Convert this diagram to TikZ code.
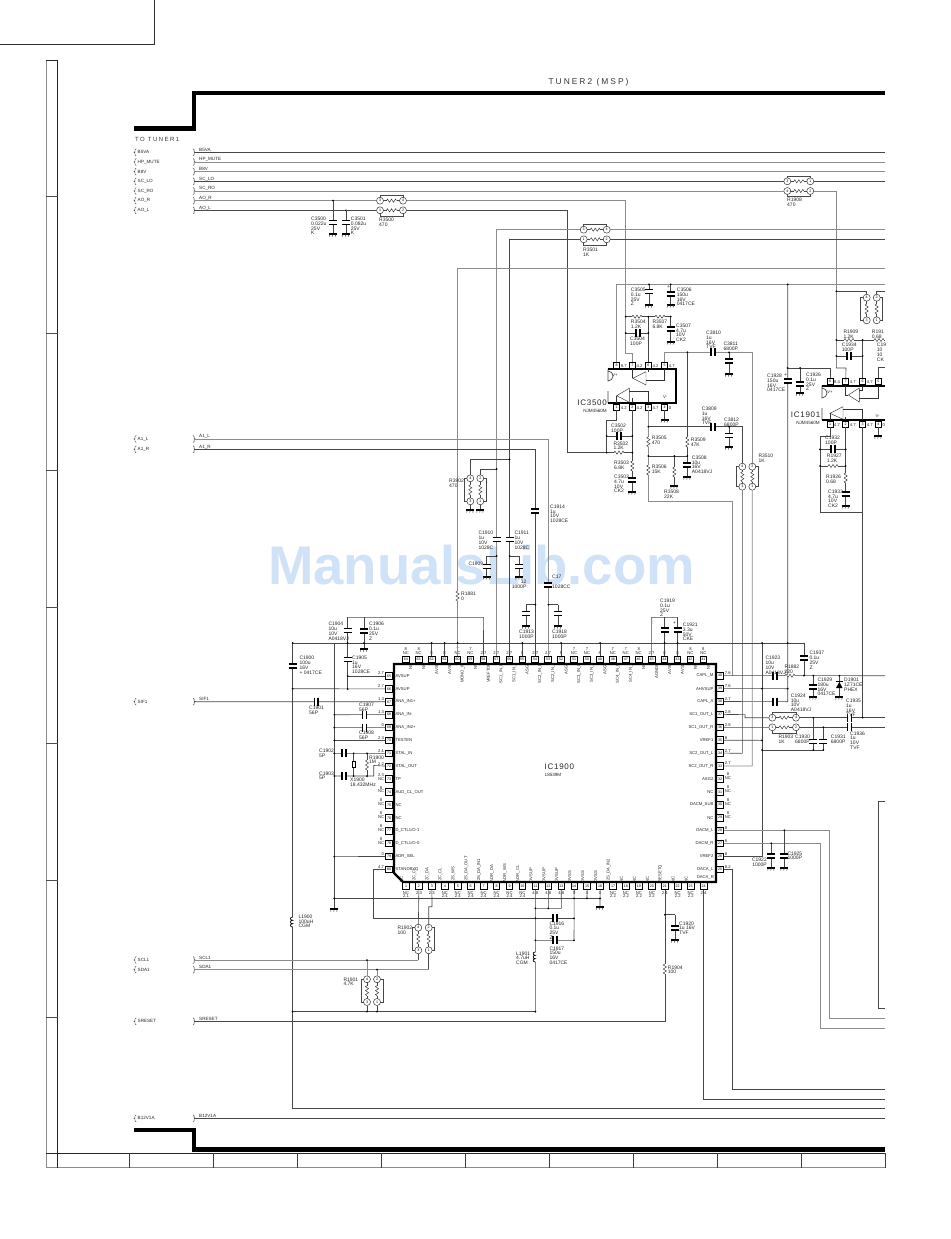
\documentclass[tikz,border=0pt]{standalone}
\usepackage{fontspec}
\setmainfont{Liberation Sans}
\newfontfamily\spaced[LetterSpace=24]{Liberation Sans}
\newfontfamily\spacedb[LetterSpace=9]{Liberation Sans}
\definecolor{wmark}{RGB}{208,226,248}
\newcounter{lb}
\tikzset{
 wd/.style={draw=black!72,line width=.6},
 wg/.style={draw=black!45,line width=.7},
 plate/.style={draw=black,line width=1.5},
 zig/.style={draw=black!80,line width=.45},
 heavy/.style={draw=black,line width=4.5},
 lbl/.style={anchor=north west,inner sep=0,align=left,font=\fontsize{5}{4.7}\selectfont,text=black!85},
 lblr/.style={anchor=north east,inner sep=0,align=right,font=\fontsize{5}{4.7}\selectfont,text=black!85},
 sig/.style={anchor=west,inner sep=0,font=\fontsize{4.6}{5}\selectfont,text=black!85},
 pinb/.style={draw=black,line width=.85,fill=white,minimum size=6.6pt,inner sep=0,font=\fontsize{3.6}{4}\selectfont},
 pinu/.style={draw=black,line width=.75,fill=white,minimum size=6pt,inner sep=0,font=\fontsize{3.6}{4}\selectfont},
 padc/.style={circle,draw=black!80,line width=.5,fill=white,minimum size=7pt,inner sep=0,font=\fontsize{3.6}{4}\selectfont},
 pintxt/.style={inner sep=0,font=\fontsize{4.2}{4.6}\selectfont,text=black!85},
 val/.style={inner sep=0,align=center,font=\fontsize{4.2}{3.9}\selectfont,text=black!85}
}
\newcommand\lab[3]{\stepcounter{lb}\node[lbl] (lab\arabic{lb}) at (#1,#2) {#3};}
\newcommand\labr[3]{\stepcounter{lb}\node[lblr] (lab\arabic{lb}) at (#1,#2) {#3};}
\newcommand\capV[2]{\fill[white] (#1-3,#2-1.1) rectangle (#1+3,#2+1.1);\draw[plate] (#1-4,#2-1.8)--(#1+4,#2-1.8);\draw[plate] (#1-4,#2+1.8)--(#1+4,#2+1.8);}
\newcommand\capH[2]{\fill[white] (#1-1.1,#2-3) rectangle (#1+1.1,#2+3);\draw[plate] (#1-1.8,#2-4)--(#1-1.8,#2+4);\draw[plate] (#1+1.8,#2-4)--(#1+1.8,#2+4);}
\newcommand\resH[2]{\fill[white] (#1-5,#2-1) rectangle (#1+5,#2+1);\draw[zig] (#1-5,#2)--(#1-4,#2-1.6)--(#1-2,#2+1.6)--(#1,#2-1.6)--(#1+2,#2+1.6)--(#1+4,#2-1.6)--(#1+5,#2);}
\newcommand\resV[2]{\fill[white] (#1-1,#2-5) rectangle (#1+1,#2+5);\draw[zig] (#1,#2-5)--(#1-1.6,#2-4)--(#1+1.6,#2-2)--(#1-1.6,#2)--(#1+1.6,#2+2)--(#1-1.6,#2+4)--(#1,#2+5);}
\newcommand\gndS[2]{\draw[plate] (#1-4,#2)--(#1+4,#2);\draw[zig] (#1-3,#2)--(#1-3.6,#2+2.6) (#1,#2)--(#1-.6,#2+2.6) (#1+3,#2)--(#1+2.4,#2+2.6);}
\newcommand\capG[4]{\draw[wd] (#1,#2)--(#1,#4);\capV{#1}{#3}\gndS{#1}{#4}}
\newcommand\dotj[2]{\fill[black] (#1,#2) circle (1);}
\newcommand\indV[2]{\fill[white] (#1-.8,#2-5) rectangle (#1+.8,#2+5);\draw[draw=black,line width=.7] (#1,#2-5) .. controls (#1-3,#2-5) and (#1-3,#2-1.7) .. (#1,#2-1.7) .. controls (#1-3,#2-1.7) and (#1-3,#2+1.7) .. (#1,#2+1.7) .. controls (#1-3,#2+1.7) and (#1-3,#2+5) .. (#1,#2+5);}
% horizontal / vertical resistor networks
\newcommand\netH[9]{\draw[wd] (#2,#4-5.5) rectangle (#3,#4);\draw[wd] (#2,#5) rectangle (#3,#5+5.5);
 \node[padc] (#1a) at (#2,#4) {#6};\node[padc] (#1b) at (#3,#4) {#7};\node[padc] (#1c) at (#2,#5) {#8};\node[padc] (#1d) at (#3,#5) {#9};
 \draw[wd] (#1a)--(#1b);\draw[wd] (#1c)--(#1d);
 \pgfmathsetmacro\midv{(#2+#3)/2}\resH{\midv}{#4}\resH{\midv}{#5}}
\newcommand\netV[9]{\draw[wd] (#2-6,#4) rectangle (#2,#5);\draw[wd] (#3,#4) rectangle (#3+6,#5);
 \node[padc] (#1a) at (#2,#4) {#6};\node[padc] (#1b) at (#3,#4) {#7};\node[padc] (#1c) at (#2,#5) {#8};\node[padc] (#1d) at (#3,#5) {#9};
 \draw[wd] (#1a)--(#1c);\draw[wd] (#1b)--(#1d);
 \pgfmathsetmacro\midv{(#4+#5)/2}\resV{#2}{\midv}\resV{#3}{\midv}}
\newcommand\sigL[4]{% name, y, text, style
 \coordinate (#1) at (194,#2);\coordinate (#1R) at (885,#2);
 \draw[zig] (136.2,#2-3.5)--(135,#2-2.5)--(135,#2-.6)--(134,#2)--(135,#2+.6)--(135,#2+2.5)--(136.2,#2+3.5);
 \draw[zig] (193,#2-3.5)--(194.2,#2-2.5)--(194.2,#2-.6)--(195.2,#2)--(194.2,#2+.6)--(194.2,#2+2.5)--(193,#2+3.5);
 \node[sig] (#1T) at (137.5,#2) {#3};\node[sig] (#1U) at (199,#2-2.3) {#3};}
\begin{document}
\begin{tikzpicture}[x=1pt,y=-1pt]
\useasboundingbox (0,0) rectangle (950,1239);
\node[inner sep=0,text=wmark,font=\fontsize{54.5}{60}\selectfont\bfseries] (wm) at (481.5,565) {ManualsLib.com};
% frame
\draw[line width=1,draw=black!80] (0,45)--(154,45)--(154,0);
\draw[line width=1,draw=black!45] (46,60)--(46,1167.5)--(885,1167.5);
\draw[line width=.8,draw=black!85] (46,60)--(57.5,60)--(57.5,1167.5);
\draw[line width=.8,draw=black!85] (46,1153.3)--(885.3,1153.3);
\foreach \x in {129.3,213.3,297.3,381.3,465.3,549.3,633.3,717.3,801.3,885.3} \draw[line width=.7,draw=black!75] (\x,1153.3)--(\x,1167.5);
\foreach \y in {196,333,470,607,743,880,1017} \draw[line width=.7,draw=black!70] (46,\y)--(57.5,\y);
\draw[heavy,line join=miter] (885,93)--(194,93)--(194,128.3)--(134,128.3);
\draw[heavy,line join=miter] (134,1130)--(194,1130)--(194,1149.5)--(885,1149.5);
\node[anchor=center,inner sep=0,font=\fontsize{8.4}{9}\spaced,text=black!80] (title) at (588.5,82) {TUNER2 (MSP)};
\node[anchor=west,inner sep=0,font=\fontsize{6}{7}\spaced,text=black!80] (toT) at (135,139) {TO TUNER1};
% IC1900 pins
\foreach \n in {1,...,24} {\pgfmathsetmacro\xx{406+12.94*(\n-1)}\node[pinb] (p\n) at (\xx,886) {\n};}
\foreach \n in {25,...,40} {\pgfmathsetmacro\yy{869.3-12.91*(\n-25)}\node[pinb] (p\n) at (720,\yy) {\n};}
\foreach \n in {41,...,64} {\pgfmathsetmacro\xx{703.4-12.94*(\n-41)}\node[pinb] (p\n) at (\xx,659.3) {\n};}
\foreach \n in {65,...,80} {\pgfmathsetmacro\yy{676+12.89*(\n-65)}\node[pinb] (p\n) at (389,\yy) {\n};}
\draw[draw=black,line width=2.2,line join=miter] (394,664)--(716,664)--(716,882)--(403,882)--(394,873)--cycle;
% pin names
\foreach \t [count=\n] in {NC,I2C\_CL,I2C\_DA,I2C\_CL,I2S\_WS,I2S\_DA\_OUT,I2S\_DA\_IN1,ADR\_DA,ADR\_WS,ADR\_CL,DVSUP,DVSUP,DVSUP,DVSS,DVSS,DVSS,I2S\_DA\_IN2,NC,NC,NC,RESETQ,NC,NC}
 {\node[pintxt,rotate=90,anchor=west,yshift=4.5pt] (tb\n) at (p\n.north) {\t};}
\node[pintxt,anchor=east] (tb24) at (714,877) {DACA\_R};
\foreach \n/\t in {25/DACA\_L,26/VREF2,27/DACM\_R,28/DACM\_L,29/NC,30/DACM\_SUB,31/NC,32/ASG2,33/SC2\_OUT\_R,34/SC2\_OUT\_L,35/VREF1,36/SC1\_OUT\_R,37/SC1\_OUT\_L,38/CAPL\_A,39/AHVSUP,40/CAPL\_M}
 {\node[pintxt,anchor=east,xshift=-2.7pt] (tr\n) at (p\n.west) {\t};}
\foreach \n/\t in {41/NC,42/NC,43/AVSS,44/AVSS,45/AGNDC,46/NC,47/SC4\_IN\_L,48/SC4\_IN\_R,49/ASG4,50/SC3\_IN\_L,51/SC3\_IN\_R,52/ASG3,53/SC2\_IN\_L,54/SC2\_IN\_R,55/ASG1,56/SC1\_IN\_L,57/SC1\_IN\_R,58/VREFTOP,59/NC,60/MONO\_IN,61/AVSS,62/AVSS,63/NC,64/NC}
 {\node[pintxt,rotate=90,anchor=east,yshift=-5pt] (tt\n) at (p\n.south) {\t};}
\foreach \n/\t in {65/AVSUP,66/AVSUP,67/ANA\_IN1+,68/ANA\_IN-,69/ANA\_IN2+,70/TESTEN,71/XTAL\_IN,72/XTAL\_OUT,73/TP,74/AUD\_CL\_OUT,75/NC,76/NC,79/ADR\_SEL,80/STANDBYQ}
 {\node[pintxt,anchor=west,xshift=2.7pt] (tl\n) at (p\n.east) {\t};}
\node[pintxt,anchor=west,xshift=2.7pt] (tl77) at (p77.east) {D\_CTL1/O-1};
\node[pintxt,anchor=west,xshift=2.7pt] (tl78) at (p78.east) {D\_CTL1/O-0};
% outer values
\foreach \n/\v in {64/{8\\NC},63/{8\\NC},62/8,61/8,60/{7\\NC},59/{7\\NC},58/2.7,57/2.7,56/2.7,55/8,54/2.7,53/2.7,52/8,51/{7\\NC},50/{7\\NC},49/8,48/{7\\NC},47/{7\\NC},46/{8\\NC},45/2.7,44/8,43/8,42/{8\\NC},41/{8\\NC}}
 {\node[val,anchor=south,yshift=.8pt] (vt\n) at (p\n.north) {\v};}
\foreach \n/\v in {1/{NC\\2.1},2/2.3,3/2.3,4/{NC\\2.4},5/{NC\\2.4},6/{NC\\2.4},7/{NC\\2.4},8/{NC\\2.4},9/{NC\\2.4},10/{NC\\2.4},11/4.8,12/4.8,13/4.8,14/0,15/0,16/0,17/{NC\\2.2},18/{NC\\2.2},19/{NC\\2.2},20/{NC\\2.2},21/2.4,22/{NC\\2.2},23/{NC\\2.2},24/2.4}
 {\node[val,anchor=north,yshift=-1.2pt] (vb\n) at (p\n.south) {\v};}
\foreach \n/\v in {65/2.7,66/2.7,67/1.3,68/1.3,69/0,70/2.3,71/2.1,72/2.2,73/{2.3\\NC},74/{8\\NC},75/{8\\NC},76/{8\\NC},77/{8\\NC},78/{8\\NC},79/0,80/4.7}
 {\node[val,anchor=east,xshift=-1pt,yshift=2.5pt] (vl\n) at (p\n.west) {\v};}
\foreach \n/\v in {40/7.6,39/7.6,38/2.7,37/2.8,36/2.8,35/8,34/2.7,33/2.7,32/{8\\NC},31/{8\\NC},30/{8\\NC},29/{8\\NC},28/8,27/8,26/8,25/8.2}
 {\node[val,anchor=west,xshift=1pt,yshift=2.5pt] (vr\n) at (p\n.east) {\v};}
% IC3500 body
\draw[wd,line width=.7] (608,369.3)--(608,381) arc[start angle=90,end angle=-90,radius=5] (608,391)--(608,403);
\draw[draw=black,line width=2,line join=miter] (608,369.3)--(676,369.3)--(676,403)--(608,403);
\foreach \n/\x in {8/616.7,7/632.3,6/648.3,5/664.7} {\node[pinu] (u\n) at (\x,365.7) {\n};}
\foreach \n/\x in {1/616.7,2/632.3,3/648.3,4/664.7} {\node[pinu] (u\n) at (\x,407) {\n};}
\draw[zig] (632.7,378.3)--(646,371.7)--(646,385)--cycle;
\draw[zig] (616.7,395.7)--(629.3,388.3)--(629.3,402.3)--cycle;
\draw[zig] (632.3,369.3)--(632.3,378.3) (648.3,369.3)--(648.3,372) (664.7,369.3)--(664.7,380)--(646,380);
\draw[zig] (616.7,403)--(616.7,395.7) (632.3,403)--(632.3,398) (648.3,403)--(648.3,391)--(629.3,391);
\foreach \n/\v in {8/8.7,7/4.2,6/4.2,5/4.7} {\node[val,anchor=south west,xshift=4pt,yshift=-5.5pt] (uvt\n) at (u\n.north) {\v};}
\foreach \n/\v in {1/4.2,2/4.2,3/4.7,4/0} {\node[val,anchor=north west,xshift=4pt,yshift=4pt] (uvb\n) at (u\n.south) {\v};}
\node[val] (uvp) at (615,375) {V+};\node[val] (uvm) at (665,397) {V-};
\node[anchor=east,inner sep=0,font=\fontsize{8}{9}\spacedb,text=black!85] (ic35) at (607,402.5) {IC3500};
\node[sig,anchor=east] (ic35n) at (607,411) {NJM4560M};
% IC1901 body
\draw[wd,line width=.7] (822,385.7)--(822,398) arc[start angle=90,end angle=-90,radius=5] (822,408)--(822,420);
\draw[draw=black,line width=2,line join=miter] (885,385.7)--(822,385.7) (822,420)--(885,420);
\foreach \n/\x in {8/830,7/845.7,6/862.7,5/878.3} {\node[pinu] (v\n) at (\x,381.3) {\n};}
\foreach \n/\x in {1/830,2/845.7,3/862.7,4/878.3} {\node[pinu] (v\n) at (\x,424) {\n};}
\draw[zig] (848.3,395)--(859.3,388)--(859.3,402)--cycle;
\draw[zig] (830,413.3)--(843,406.7)--(843,419.3)--cycle;
\draw[zig] (845.7,385.7)--(845.7,395)--(848.3,395) (862.7,385.7)--(862.7,390)--(859.3,390) (878.3,385.7)--(878.3,398)--(859.3,398);
\draw[zig] (830,420)--(830,413.3) (845.7,420)--(845.7,417) (862.7,420)--(862.7,409)--(843,409);
\foreach \n/\v in {8/8.4,7/4.7,6/4.7} {\node[val,anchor=south west,xshift=4pt,yshift=-5.5pt] (vvt\n) at (v\n.north) {\v};}
\foreach \n/\v in {1/4.7,2/4.7,3/4.7,4/0} {\node[val,anchor=north west,xshift=4pt,yshift=4pt] (vvb\n) at (v\n.south) {\v};}
\node[val] (vvp) at (830,391.7) {V+};\node[val] (vvm) at (877.7,415.7) {V-};
\node[anchor=east,inner sep=0,font=\fontsize{8}{9}\spacedb,text=black!85] (ic19) at (820.5,415) {IC1901};
\node[sig,anchor=east] (ic19n) at (820,423) {NJM4560M};
\node[anchor=west,inner sep=0,font=\fontsize{8}{9}\spacedb,text=black!85] (ic1900) at (544.5,767) {IC1900};
\node[sig] (ic1900n) at (544.5,774.5) {18539M};
% input lines
\sigL{b5}{152.3}{B5VA}{wd}\sigL{hp}{162}{HP\_MUTE}{wg}\sigL{b8}{171.7}{B8V}{wg}\sigL{lo}{181.3}{SC\_LO}{wd}\sigL{ro}{191}{SC\_RO}{wg}\sigL{aor}{200.7}{AO\_R}{wg}\sigL{aol}{210.3}{AO\_L}{wd}
\sigL{a1l}{439}{A1\_L}{wg}\sigL{a1r}{449.3}{A1\_R}{wd}\sigL{sif}{701.7}{SIF1}{wd}\sigL{scl}{960}{SCL1}{wg}\sigL{sda}{969.7}{SDA1}{wg}\sigL{srs}{1021.3}{SRESET}{wd}\sigL{b12}{1118.3}{B12V1A}{wd}
\draw[wd] (b5)--(b5R);\draw[wg] (hp)--(hpR);\draw[wg] (b8)--(b8R);
% resistor networks
\netH{ra}{380}{403}{200.7}{210.3}{3}{4}{1}{2}
\netH{rb}{583.7}{606.7}{229.7}{239.3}{3}{4}{1}{2}
\netH{rc}{787.3}{810.3}{181.3}{191}{3}{1}{4}{2}
\netH{rd}{772.3}{796}{717.7}{727.3}{3}{4}{1}{2}
\netV{re}{470.3}{480.3}{478.3}{501.3}{4}{2}{3}{1}
\netV{rf}{742.3}{752.3}{466.7}{486.7}{4}{2}{3}{1}
\netV{rg}{418.3}{428.7}{927.7}{950.3}{4}{2}{3}{1}
\netV{rh}{367}{377}{979.3}{1002}{4}{2}{3}{1}
\netV{ri}{866.7}{876.7}{297.7}{320.3}{4}{2}{3}{1}
% top wiring
\draw[wd] (lo)--(rca);\draw[wd] (rcb)--(loR);
\draw[wg] (ro)--(rcc);\draw[wg] (rcd)--(836.3,191);
\draw[wd] (836.3,191)--(836.3,368)--(846,368)--(v7);
\draw[wg] (aor)--(raa);\draw[wg] (rab)--(625.7,200.7)--(625.7,353.3)--(632.3,353.3)--(u7);
\draw[wd] (aol)--(rac);\draw[wd] (rad)--(567.5,210.3)--(567.5,452.7)--(606.7,452.7);
\draw[wg] (p57) |- (rba);\draw[wg] (rbb)--(885,229.7);
\draw[wd] (p56) |- (rbc);\draw[wd] (rbd)--(885,239.3);
\draw[wg] (p60) |- (885,268.7);
\draw[wg] (u8) |- (885,284.3);
\draw[wd] (787.7,284.3)--(787.7,701.7)--(p38);
\draw[wd] (836.3,291.3)--(866.7,291.3)--(ria);\draw[wd] (885,291.3)--(876.7,291.3)--(rib);
% IC3500 wiring
\draw[wd] (625.7,316.7)--(670.7,316.7);\draw[wd] (625.7,333)--(648.3,333);\draw[wd] (648.3,316.7)--(u6);
\draw[wg] (u5) |- (752.3,352.3)--(rfb);
\draw[wd] (648.3,426.7)--(742.3,426.7)--(rfa);
\draw[wg] (u3)--(648.3,501.7)--(732.7,501.7)--(732.7,675.7);
\draw[wd] (rfc)--(742.3,753.3)--(p34);\draw[wg] (rfd)--(752.3,766)--(p33);
\draw[wd] (u1) |- (606.7,420.7)--(606.7,452.7)--(632.3,452.7);
\draw[wd] (606.7,436)--(632.3,436);
\draw[wd] (u2)--(632.3,492);
\draw[wd] (687.3,352.3)--(687.3,477);
\draw[wd] (648.3,456)--(687.3,456);
\draw[wd] (674.3,456)--(674.3,486);
\draw[wd] (u4)--(664.7,420);
\gndS{664.7}{420}
\capG{649}{284.3}{291.5}{305}\capG{670.7}{284.3}{294}{305}\capG{670.7}{316.7}{329}{342}
\capG{729}{352.3}{361}{374}\capG{729}{426.7}{435.5}{447}
\capH{638}{333}\resH{637}{316.7}\resH{660}{316.7}\capH{713}{352.3}\capH{713}{426.7}\capH{619}{436}\resH{619}{452.7}
\resV{632.3}{466}\capV{632.3}{480}\gndS{632.3}{492}
\resV{648.3}{441.7}\resV{648.3}{470}\resV{687.3}{442}\capV{687.3}{465}\gndS{687.3}{477}\resV{674.3}{472}\gndS{674.3}{486}
% IC1901 wiring
\draw[wd] (787.7,368)--(830,368)--(v8);
\capG{800}{368}{384}{393}\capV{787.7}{381}
\draw[wd] (836.3,340)--(885,340);\draw[wd] (836.3,356)--(862.7,356);\draw[wd] (862.7,340)--(v6);
\draw[wd] (v5)--(878.3,367)--(885,367);
\draw[wd] (v1)--(830,436)--(820,436)--(820,512.7)--(862.7,512.7);
\draw[wd] (820,449.3)--(845.7,449.3);\draw[wd] (820,466)--(845.7,466);
\draw[wd] (v2)--(845.7,506);
\draw[wd] (v4)--(878.3,436);\gndS{878.3}{436}
\draw[wd] (v3)--(862.7,717.7);
\resH{849}{340}\resH{879}{340}\capH{849}{356}\capH{833}{449.3}\resH{833}{466}\resV{845.7}{478}\capV{845.7}{494}\gndS{845.7}{506}
% AV inputs
\draw[wg] (a1l) -| (p53);\draw[wd] (a1r) -| (p54);
\draw[wd] (509.5,459.3)--(470.3,459.3)--(rea);\draw[wd] (496.6,469)--(480.3,469)--(reb);
\draw[wd] (rec)--(470.3,510);\draw[wd] (red)--(480.3,510);\gndS{470.3}{510}\gndS{480.3}{510}
\capV{496.6}{539.5}\capV{509.5}{539.5}\capV{535.4}{511}\capV{548.3}{585}
\draw[wd] (509.5,556)--(519.3,556);\capG{519.3}{556}{566.5}{577}
\draw[wd] (496.6,556)--(486.7,556);\capG{486.7}{556}{566.5}{577}
\draw[wd] (535.4,604.7)--(526,604.7);\capG{526}{604.7}{613.5}{626}
\draw[wd] (548.3,604.7)--(558,604.7);\capG{558}{604.7}{613.5}{626}
\resV{457.6}{596}
% rails
\draw[wd] (292.7,643)--(804,643);
\draw[wd] (292.7,643)--(292.7,1108.3)--(885,1108.3);
\draw[wd] (b12)--(b12R);
\draw[wd] (334.3,643)--(334.3,909);\gndS{334.3}{909}
\draw[wd] (292.7,688.7)--(p66);
\draw[wd] (347.7,617.3)--(347.7,689);\draw[wd] (347.7,676)--(p65);
\draw[wd] (347.7,617.3)--(483.6,617.3)--(p58);
\capG{364}{617.3}{631}{649}
\capV{347.7}{630.5}\capV{347.7}{659.5}\capV{292.7}{666}\indV{292.7}{922}
\draw[wd] (sif)--(p67);\capH{316.3}{701.7}
\foreach \n/\y in {68/714.7,69/727.6,70/740.5,79/856.6,71/753.3} {\draw[wd] (334.3,\y)--(p\n);}
\capH{364.5}{714.7}\capH{364.5}{727.6}\capH{344}{753.3}
\draw[wd] (334.3,776)--(373.7,776)--(373.7,765.5)--(p72);\capH{344}{776}
\draw[wd] (353.7,753.3)--(353.7,776);\draw[wd] (367,753.3)--(367,776);\resV{367}{765}
\draw[draw=black,line width=.6,fill=white] (352.2,761) rectangle (355.2,767.5);
\draw[wd] (p80) -| (373.7,918.3)--(574,918.3);\capH{555}{918.3}
\foreach \n in {62,61,55,52,49,44,43} {\draw[wd] (p\n) -- (p\n |- 292.7,643);}
\draw[wd] (p45)--(651.7,617.3)--(677.7,617.3);
\draw[wd] (664.7,617.3)--(664.7,643);\draw[wd] (677.7,617.3)--(677.7,643);\capV{664.7}{630}\capV{677.7}{630}
% bottom
\draw[wd] (334.3,898.3)--(600,898.3);
\draw[wd] (p14)--(574,940.3)--(535.4,940.3);\capH{555}{940.3}
\draw[wd] (p15)--(587,898.3);\draw[wd] (p16)--(600,907);\gndS{600}{907}
\draw[wd] (p11)--(535.4,1011.7);\indV{535.4}{957}
\draw[wd] (p12)--(548.3,908.3);\draw[wd] (p13)--(561.3,908.3)--(535.4,908.3);
\draw[wd] (292.7,1011.7)--(535.4,1011.7);
\draw[wd] (p2)--(rga);\draw[wd] (p3)--(432,906.7)--(428.7,906.7)--(rgb);
\draw[wd] (rgc)--(418.3,960);\draw[wg] (scl)--(418.3,960);
\draw[wd] (rgd)--(428.7,969.7);\draw[wg] (sda)--(428.7,969.7);
\draw[wg] (367,960)--(rha);\draw[wg] (377,969.7)--(rhb);\draw[wd] (rhc)--(367,1011.7);\draw[wd] (rhd)--(377,1011.7);
\draw[wd] (srs) -| (p21);\resV{664.8}{969}
\draw[wd] (664.8,914.7)--(675,914.7);\capG{675}{914.7}{928}{940}
\draw[wd] (p24) |- (885,1099);
\draw[wd] (p25) -| (732.7,1089.3)--(885,1089.3);
\draw[wd] (p26) -| (762,643);
\draw[wg] (p28) -| (829.3,1018.3)--(885,1018.3);\draw[wg] (p27) -| (820,1028)--(885,1028);
\draw[wd] (885,801.7)--(878.7,801.7)--(878.7,1008.3)--(885,1008.3);
\capG{771.3}{843.3}{856}{868}\capG{784.3}{830.3}{856}{868}
% right side
\draw[wd] (p40)--(885,675.7);\capH{775}{675.7}\resH{790}{675.7}
\draw[wd] (p39)--(787.7,688.7);\capH{775}{701.7}
\draw[wd] (804,643)--(804,675.7);\capV{804}{658}
\capG{813.3}{675.7}{687}{697}
\draw[wd] (839.3,675.7)--(839.3,697);\gndS{839.3}{697}
\fill[black] (836,688)--(842.6,688)--(839.3,682)--cycle;\draw[plate] (836,681.5)--(842.6,681.5);
\draw[wd] (p37)--(745,714.6)--(745,717.7)--(rda);\draw[wd] (p36)--(rdc);
\draw[wd] (rdb)--(885,717.7);\draw[wd] (rdd)--(885,727.3);
\capH{849.5}{717.7}\capH{849.5}{727.3}
\draw[wd] (p35)--(762,740.3);
\draw[wd] (762,750)--(823.3,750);\draw[wd] (813.3,717.7)--(813.3,750);\draw[wd] (823.3,727.3)--(823.3,750);
\capV{813.3}{741.5}\capV{823.3}{741.5}
% dots
\foreach \x/\y in {333/200.7,346/210.3,787.7/284.3,836.3/291.3,836.3/340,862.7/340,836.3/356,862.7/356,649/284.3,670.7/284.3,625.7/316.7,648.3/316.7,670.7/316.7,625.7/333,648.3/333,687.3/352.3,729/352.3,648.3/426.7,729/426.7,606.7/436,632.3/436,606.7/452.7,632.3/452.7,648.3/456,674.3/456,687.3/456,787.7/368,800/368,820/449.3,845.7/449.3,820/466,845.7/466,509.5/459.3,496.6/469,509.5/556,496.6/556,535.4/604.7,548.3/604.7,347.7/643,364/643,431.7/643,444.6/643,457.6/643,522.4/643,561.2/643,600/643,664.7/643,677.7/643,762/643,787.7/643,292.7/643,347.7/676,292.7/688.7,347.7/689,334.3/714.7,334.3/727.6,334.3/740.5,334.3/753.3,334.3/776,334.3/856.6,334.3/898.3,353.7/753.3,367/753.3,353.7/776,367/776,762/688.7,787.7/688.7,762/740.3,762/750,813.3/750,823.3/750,813.3/717.7,823.3/727.3,862.7/717.7,804/675.7,813.3/675.7,839.3/675.7,574/898.3,587/898.3,600/898.3,535.4/908.3,548.3/908.3,535.4/918.3,574/918.3,535.4/940.3,574/940.3,664.8/914.7,771.3/843.3,784.3/830.3,367/960,377/969.7,292.7/1011.7,367/1011.7,377/1011.7,535.4/1011.7}
 {\dotj{\x}{\y}}
\capG{333}{200.7}{222.5}{234}\capG{346}{210.3}{222.5}{234}
% component labels
\lab{311}{217}{C3500\\0.022u\\25V\\K}\lab{350.7}{217}{C3501\\0.082u\\25V\\K}\lab{379}{218}{R3500\\470}
\lab{583}{248}{R3501\\1K}\lab{787}{198.3}{R1908\\470}
\lab{630.7}{288}{C3505\\0.1u\\25V\\Z}\lab{676.7}{288}{C3506\\150u\\16V\\0417CE}\lab{667}{285}{+}
\lab{630.7}{320}{R3504\\1.2K}\lab{652.3}{320}{R3507\\6.8K}\lab{630}{337}{C3504\\100P}\lab{676}{323.7}{C3507\\4.7u\\10V\\CK2}
\lab{706}{331}{C3810\\1u\\16V\\TVF}\lab{723.3}{342}{C3811\\6800P}
\lab{701.7}{407}{C3809\\1u\\16V\\TVF}\lab{724}{418}{C3812\\6800P}
\lab{611}{424}{C3502\\100P}\lab{613.3}{441.5}{R3502\\1.2K}\lab{614}{461}{R3503\\6.8K}\lab{614}{475}{C3503\\4.7u\\10V\\CK2}
\lab{651.7}{436.3}{R3505\\470}\lab{651.7}{465}{R3506\\15K}\lab{664}{490}{R3508\\22K}\lab{690.7}{438}{R3509\\47K}\lab{691.7}{455.7}{C3508\\10u\\16V\\A0418VJ}
\lab{758.3}{454}{R3510\\1K}
\lab{767}{374}{C1928\\150u\\16V\\0417CE}\lab{784}{373}{+}\lab{806}{373}{C1926\\0.1u\\25V\\Z}
\lab{843.3}{329.7}{R1909\\1.2K}\lab{871.7}{329.7}{R191\\0.68}\lab{841.7}{343.3}{C1934\\100P}\lab{876.7}{343.3}{C19\\10\\10\\CK}
\lab{825}{436.3}{C1932\\100P}\lab{826.7}{454}{R1927\\1.2K}\lab{826}{474.7}{R1926\\0.68}\lab{828}{489.7}{C1933\\4.7u\\10V\\CK2}
\lab{449}{478.7}{R3902\\470}\lab{478.3}{531.3}{C1910\\1u\\10V\\1028C}\lab{514.3}{531.3}{C1911\\1u\\10V\\1028C}\lab{550}{504.7}{C1914\\1u\\10V\\1028CE}
\lab{468.3}{562}{C1909}\lab{520.7}{579.7}{12}\lab{511.7}{585}{1000P}\lab{552}{574.7}{C17}\lab{552}{585}{1028CC}
\lab{519}{630.3}{C1913\\1000P}\lab{552}{630.3}{C1918\\1000P}\lab{461}{592}{R1881\\0}
\lab{660}{599}{C1919\\0.1u\\25V\\Z}\lab{682.7}{623}{C1921\\3.3u\\50V\\CKE}\lab{673}{621}{+}
\lab{765.3}{656.3}{C1923\\10u\\10V\\A0418VJ}\lab{784.3}{665.3}{R1882\\220}\lab{809.3}{651.3}{C1937\\0.1u\\25V\\Z}
\lab{817.3}{678}{C1929\\180u\\16V\\0417CE}\lab{844}{678}{D1901\\1Z71CE\\PHEX}\lab{790.7}{693.7}{C1924\\10u\\10V\\A0418VJ}
\lab{846}{699}{C1935\\1u\\16V\\TVF}\lab{850}{731.3}{C1936\\1u\\10V\\TVF}\lab{778.3}{735}{R1903\\1K}\lab{795}{734.7}{C1930\\6800P}\lab{830.7}{734.7}{C1931\\6800P}
\labr{767}{858}{C1922\\1000P}\lab{787.3}{851.3}{C1925\\1000P}
\lab{328.3}{622.3}{C1904\\10u\\10V\\A0418VJ}\lab{369}{622.3}{C1906\\0.1u\\25V\\Z}\lab{352}{655.7}{C1905\\1u\\16V\\1028CE}\lab{299.3}{656.3}{C1900\\100u\\16V\\+ 0417CE}
\lab{309}{705.7}{C1901\\56P}\lab{359}{703}{C1907\\56P}\lab{359}{730.7}{C1908\\56P}\lab{319}{748.7}{C1902\\5P}\lab{319}{771.3}{C1903\\5P}
\lab{369}{755.3}{R1900\\1M}\lab{350}{778}{X1900\\18.432MHz}
\lab{298.3}{914.7}{L1900\\100uH\\CGM}\lab{397.3}{925.7}{R1902\\100}\lab{343.3}{977.3}{R1901\\4.7K}
\lab{549.3}{921.3}{C1916\\0.1u\\25V\\Z}\lab{549.3}{946.3}{C1917\\150u\\16V\\0417CE}\lab{516}{951.3}{L1901\\4.7uH\\CGM}
\lab{679}{921.3}{C1920\\1u 16V\\TVF}\lab{667.7}{965.3}{R1904\\100}
\end{tikzpicture}
\end{document}
